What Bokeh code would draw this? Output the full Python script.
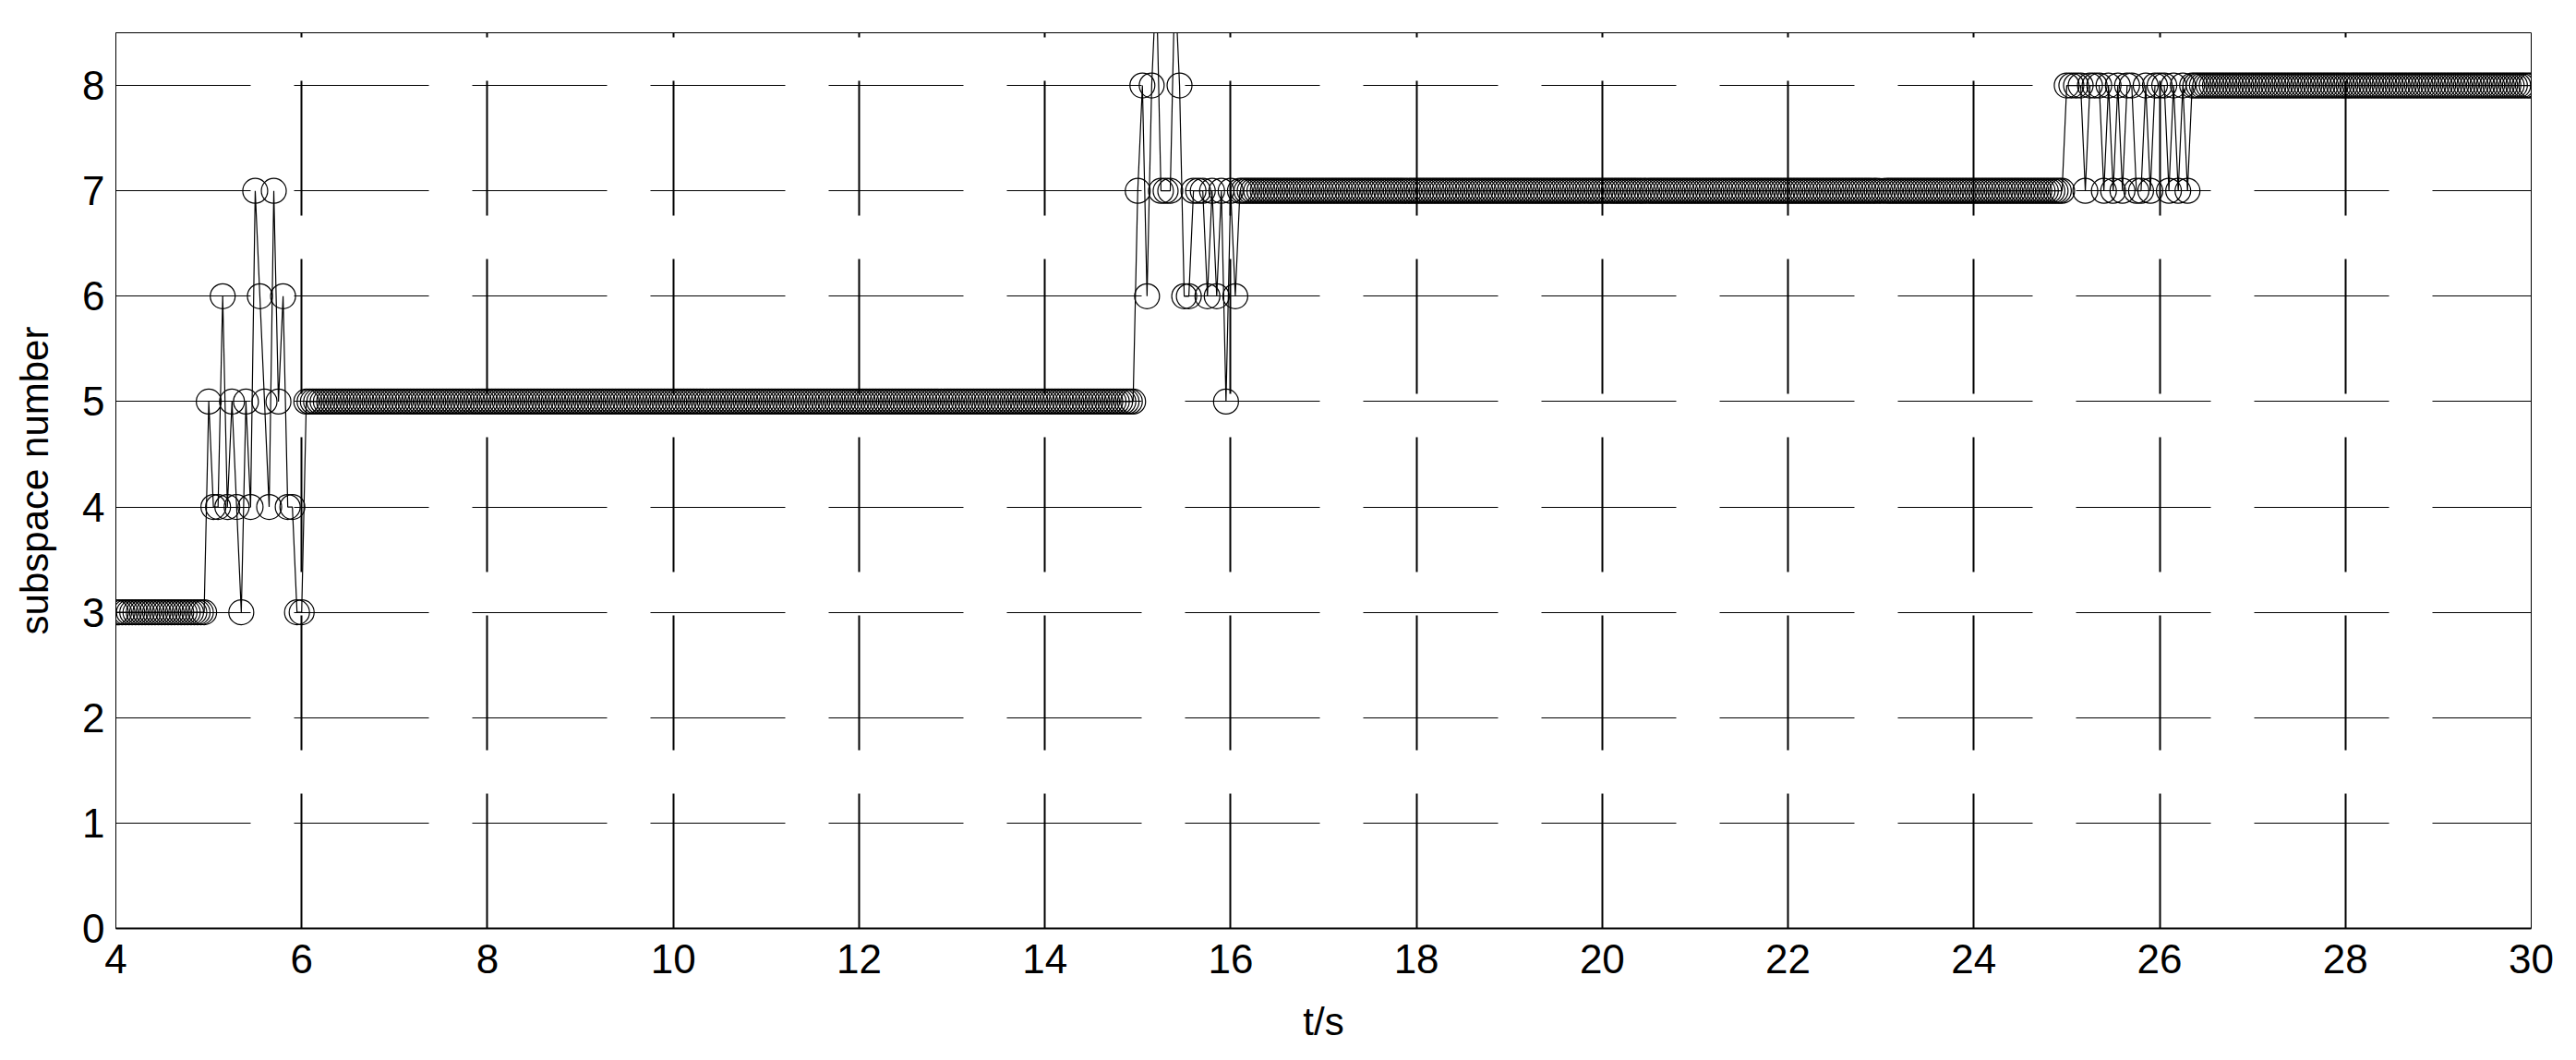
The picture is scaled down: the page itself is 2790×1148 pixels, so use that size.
import numpy as np
from bokeh.plotting import figure
from bokeh.models import ColumnDataSource, FixedTicker, Range1d
from bokeh.embed import file_html
from bokeh.resources import INLINE

# ---- data ----
# steady stretches (dense sampling): level, first and last time
steady_levels = [3, 5, 7, 8]
steady_start = [4.00, 6.05, 16.10, 26.35]
steady_end = [4.95, 14.95, 24.95, 30.00]
STEADY_DT = 0.035

# switching bursts (one value every 0.05 s), with their start times
BURST_DT = 0.05
burst_start = [5.00, 15.00, 25.00]
burst_1 = [5, 4, 4, 6, 4, 5, 4, 3, 5, 4, 7, 6, 5, 4, 7, 5, 6, 4, 4, 3, 3]
burst_2 = [7, 8, 6, 8, 9, 7, 7, 7, 9, 8, 6, 6, 7, 7, 7, 6, 7, 6, 7, 5, 7, 6]
burst_3 = [8, 8, 8, 8, 7, 8, 8, 8, 7, 8, 7, 8, 7, 8, 8, 7, 7, 8, 7, 8, 8, 8, 7,
           8, 7, 8, 7]

x_ticks = [4, 6, 8, 10, 12, 14, 16, 18, 20, 22, 24, 26, 28, 30]
y_ticks = [0, 1, 2, 3, 4, 5, 6, 7, 8]

# ---- assemble series ----
bursts = [burst_1, burst_2, burst_3]
ts, ys = [], []
for i, lev in enumerate(steady_levels):
    n = int(round((steady_end[i] - steady_start[i]) / STEADY_DT)) + 1
    tt = np.linspace(steady_start[i], steady_end[i], n)
    ts.append(tt)
    ys.append(np.full(n, lev, dtype=float))
    if i < len(bursts):
        b = bursts[i]
        ts.append(burst_start[i] + BURST_DT * np.arange(len(b)))
        ys.append(np.array(b, dtype=float))
t = np.concatenate(ts)
y = np.concatenate(ys)
src = ColumnDataSource(dict(t=t, y=y))

FONT = "Liberation Sans"

p = figure(width=2774, height=1132, output_backend="svg", toolbar_location=None,
           x_range=Range1d(4, 30), y_range=Range1d(0, 8.5),
           min_border_left=125, min_border_right=33, min_border_top=35, min_border_bottom=122)
p.background_fill_color = "white"
p.border_fill_color = "white"
p.outline_line_color = "black"
p.outline_line_width = 1

# grid
p.xgrid.ticker = FixedTicker(ticks=x_ticks)
p.ygrid.ticker = FixedTicker(ticks=y_ticks)
p.xgrid.grid_line_color = "black"
p.xgrid.grid_line_width = 2
p.xgrid.grid_line_dash = "146 47"
p.ygrid.grid_line_color = "black"
p.ygrid.grid_line_width = 1
p.ygrid.grid_line_dash = "146 47"

# axes
for ax, ticks in ((p.xaxis[0], x_ticks), (p.yaxis[0], y_ticks)):
    ax.ticker = FixedTicker(ticks=ticks)
    ax.major_tick_line_color = None
    ax.minor_tick_line_color = None
    ax.major_tick_out = 0
    ax.major_tick_in = 0
    ax.axis_line_color = "black"
    ax.major_label_text_font = FONT
    ax.major_label_text_font_size = "44px"
    ax.major_label_text_color = "black"
    ax.axis_label_text_font = FONT
    ax.axis_label_text_font_size = "42px"
    ax.axis_label_text_font_style = "normal"
    ax.axis_label_text_color = "black"

p.xaxis.major_label_standoff = 17
p.yaxis.major_label_standoff = 12
p.xaxis.axis_line_width = 2
p.yaxis.axis_line_width = 1
p.xaxis.axis_label = "t/s"
p.yaxis.axis_label = "subspace number"
p.xaxis.axis_label_standoff = 26
p.yaxis.axis_label_standoff = 25

# data
p.line("t", "y", source=src, line_color="black", line_width=1.2)
p.scatter("t", "y", source=src, marker="circle", size=27,
          fill_color=None, line_color="black", line_width=1.2)

open("out.html", "w").write(file_html(p, INLINE))
